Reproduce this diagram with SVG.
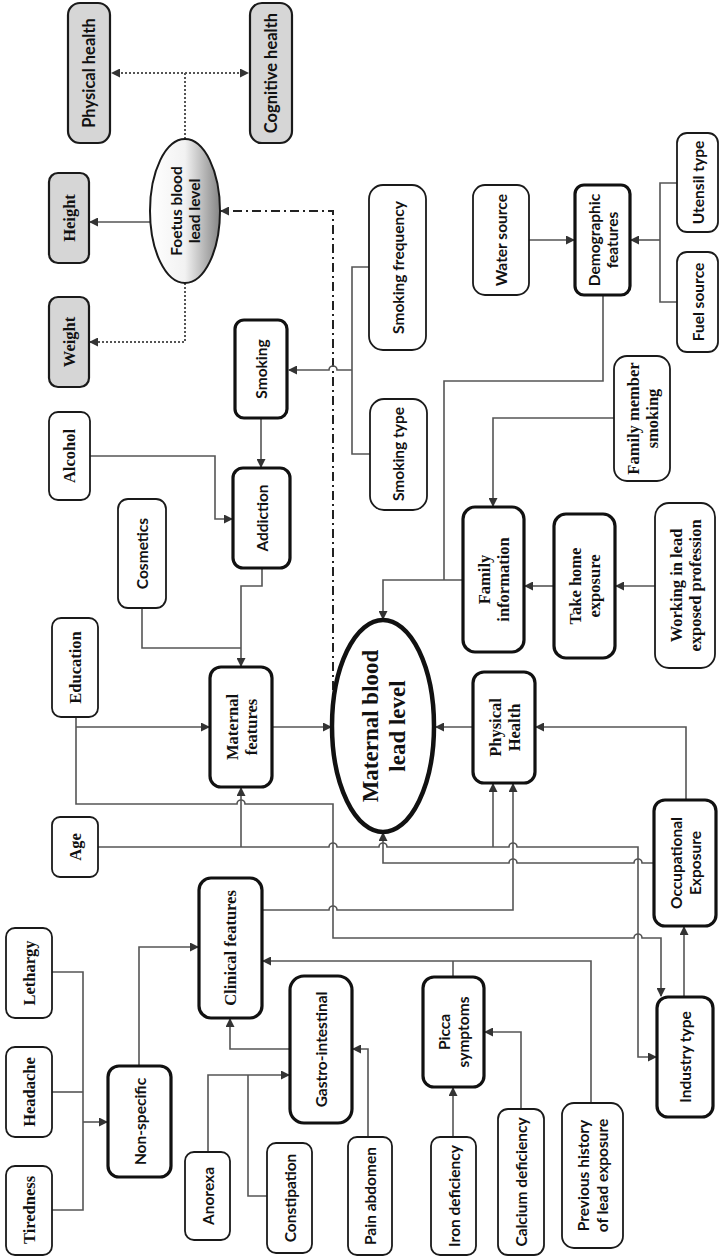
<svg xmlns="http://www.w3.org/2000/svg" width="722" height="1259" viewBox="0 0 722 1259">
<style>
.b{fill:#fff;stroke:#1a1a1a;stroke-width:1.8}
.t{fill:#fff;stroke:#111;stroke-width:3.2}
.g{fill:#d6d6d6;stroke:#1a1a1a;stroke-width:2.2}
.c{fill:none;stroke:#555;stroke-width:1.6}
.d{fill:none;stroke:#555;stroke-width:2;stroke-dasharray:2 2}
.dd{fill:none;stroke:#222;stroke-width:2;stroke-dasharray:9 4 2 4}
text{fill:#111;font-weight:bold;text-anchor:middle;dominant-baseline:central}
.s{font-family:Lato,"Liberation Sans",sans-serif;font-size:15.5px}
.r{font-family:"Liberation Serif",serif;font-size:16.5px}
.big{font-family:"Liberation Serif",serif;font-size:23px}
</style>
<defs>
<marker id="a" markerWidth="9" markerHeight="9" refX="8" refY="4.5" orient="auto" markerUnits="userSpaceOnUse"><path d="M0,0 L9,4.5 L0,9 z" fill="#333"/></marker>
<linearGradient id="fg" x1="0" y1="0" x2="1" y2="0"><stop offset="0" stop-color="#fff"/><stop offset="0.5" stop-color="#f2f2f2"/><stop offset="1" stop-color="#858585"/></linearGradient>
</defs>
<rect width="722" height="1259" fill="#fff"/>
<g id="connectors">
<path class="d" d="M185,139 V73 H112" marker-end="url(#a)"/>
<path class="d" d="M185,73 H248" marker-end="url(#a)"/>
<path class="c" d="M150,222 H90" marker-end="url(#a)"/>
<path class="d" d="M185,283 V342 H90" marker-end="url(#a)"/>
<path class="dd" d="M333,690 V211 H221" marker-end="url(#a)"/>
<path class="c" d="M369,267 H352 V454 H370"/>
<path class="c" d="M352,370 H337 a4,4 0 0 0 -8,0 H289" marker-end="url(#a)"/>
<path class="c" d="M261,418 V467" marker-end="url(#a)"/>
<path class="c" d="M90,456 H215 V519 H232" marker-end="url(#a)"/>
<path class="c" d="M262,568 V586 H241 V666" marker-end="url(#a)"/>
<path class="c" d="M142,608 V648 H241"/>
<path class="c" d="M76,717 V804 H237 a4,4 0 0 1 8,0 H333 V938 H634 a4,4 0 0 1 8,0 H661 V996" marker-end="url(#a)"/>
<path class="c" d="M76,727 H209" marker-end="url(#a)"/>
<path class="c" d="M272,727 H331" marker-end="url(#a)"/>
<path class="c" d="M98,847 H329 a4,4 0 0 1 8,0 H379 a4,4 0 0 1 8,0 H509 a4,4 0 0 1 8,0 H638 V1057 H656" marker-end="url(#a)"/>
<path class="c" d="M241,847 V788" marker-end="url(#a)"/>
<path class="c" d="M493,847 V784" marker-end="url(#a)"/>
<path class="c" d="M262,910 H329 a4,4 0 0 1 8,0 H513 V784" marker-end="url(#a)"/>
<path class="c" d="M654,863 H642 a4,4 0 0 0 -8,0 H517 a4,4 0 0 0 -8,0 H383 V833" marker-end="url(#a)"/>
<path class="c" d="M686,800 V727 H536" marker-end="url(#a)"/>
<path class="c" d="M684,997 V927" marker-end="url(#a)"/>
<path class="c" d="M473,727 H436" marker-end="url(#a)"/>
<path class="c" d="M463,580 H383 V619" marker-end="url(#a)"/>
<path class="c" d="M603,295 V381 H444 V580"/>
<path class="c" d="M614,418 H493 V506" marker-end="url(#a)"/>
<path class="c" d="M554,586 H525" marker-end="url(#a)"/>
<path class="c" d="M655,586 H616" marker-end="url(#a)"/>
<path class="c" d="M529,240 H574" marker-end="url(#a)"/>
<path class="c" d="M677,183 H660 V302 H677"/>
<path class="c" d="M660,240 H631" marker-end="url(#a)"/>
<path class="c" d="M591,1103 V961 H263" marker-end="url(#a)"/>
<path class="c" d="M453,977 V961"/>
<path class="c" d="M521,1109 V1032 H485" marker-end="url(#a)"/>
<path class="c" d="M453,1137 V1088" marker-end="url(#a)"/>
<path class="c" d="M290,1049 H230 V1019" marker-end="url(#a)"/>
<path class="c" d="M368,1137 V1049 H353" marker-end="url(#a)"/>
<path class="c" d="M208,1152 V1075 H289" marker-end="url(#a)"/>
<path class="c" d="M267,1196 H248 V1075"/>
<path class="c" d="M139,1066 V947 H198" marker-end="url(#a)"/>
<path class="c" d="M52,972 H83 V1210 H52"/>
<path class="c" d="M52,1092 H83"/>
<path class="c" d="M83,1122 H107" marker-end="url(#a)"/>
</g>
<g id="physical_health"><rect class="g" x="68" y="3" width="42" height="140" rx="12"/><text class="s" style="font-size:16.5px" transform="translate(89,73) rotate(-90)">Physical health</text></g>
<g id="cognitive_health"><rect class="g" x="250" y="3" width="42" height="140" rx="12"/><text class="s" style="font-size:16.5px" transform="translate(271,73) rotate(-90)">Cognitive health</text></g>
<g id="height"><rect class="g" x="49" y="173" width="40" height="90" rx="9"/><text class="r" transform="translate(69,218) rotate(-90)">Height</text></g>
<g id="weight"><rect class="g" x="49" y="297" width="40" height="90" rx="9"/><text class="r" transform="translate(69,342) rotate(-90)">Weight</text></g>
<g id="foetus"><ellipse cx="185" cy="211" rx="35" ry="72" fill="url(#fg)" stroke="#1a1a1a" stroke-width="2"/><text class="s" transform="translate(185,211) rotate(-90)"><tspan x="0" y="-9">Foetus blood</tspan><tspan x="0" y="9">lead level</tspan></text></g>
<g id="smoking"><rect class="t" x="235" y="320" width="52" height="98" rx="9"/><text class="s" transform="translate(261,369) rotate(-90)">Smoking</text></g>
<g id="smoking_frequency"><rect class="b" x="369" y="185" width="57" height="165" rx="14"/><text class="s" transform="translate(397.5,267.5) rotate(-90)">Smoking frequency</text></g>
<g id="smoking_type"><rect class="b" x="370" y="399" width="57" height="111" rx="14"/><text class="s" transform="translate(398,454) rotate(-90)">Smoking type</text></g>
<g id="water_source"><rect class="b" x="473" y="185" width="56" height="110" rx="12"/><text class="s" transform="translate(501,240) rotate(-90)">Water source</text></g>
<g id="demographic"><rect class="t" x="575" y="185" width="55" height="110" rx="9"/><text class="s" transform="translate(602.5,240) rotate(-90)"><tspan x="0" y="-9">Demographic</tspan><tspan x="0" y="9">features</tspan></text></g>
<g id="utensil"><rect class="b" x="677" y="133" width="41" height="99" rx="10"/><text class="s" transform="translate(697.5,182.5) rotate(-90)">Utensil type</text></g>
<g id="fuel"><rect class="b" x="677" y="252" width="41" height="100" rx="10"/><text class="s" transform="translate(697.5,302) rotate(-90)">Fuel source</text></g>
<g id="alcohol"><rect class="b" x="49" y="412" width="41" height="88" rx="9"/><text class="r" transform="translate(69.5,456) rotate(-90)">Alcohol</text></g>
<g id="addiction"><rect class="t" x="233" y="468" width="57" height="100" rx="10"/><text class="s" transform="translate(261.5,518) rotate(-90)">Addiction</text></g>
<g id="cosmetics"><rect class="b" x="118" y="499" width="48" height="109" rx="10"/><text class="s" transform="translate(142,553.5) rotate(-90)">Cosmetics</text></g>
<g id="education"><rect class="b" x="52" y="618" width="46" height="99" rx="9"/><text class="r" transform="translate(75,667.5) rotate(-90)">Education</text></g>
<g id="maternal_features"><rect class="t" x="210" y="667" width="62" height="120" rx="11"/><text class="r" transform="translate(241,727) rotate(-90)"><tspan x="0" y="-9.5">Maternal</tspan><tspan x="0" y="9.5">features</tspan></text></g>
<g id="maternal_blood"><ellipse cx="383" cy="726" rx="51" ry="106" fill="#fff" stroke="#111" stroke-width="4.5"/><text class="big" transform="translate(383,726) rotate(-90)"><tspan x="0" y="-13.5">Maternal blood</tspan><tspan x="0" y="13.5">lead level</tspan></text></g>
<g id="family_member_smoking"><rect class="b" x="614" y="356" width="56" height="125" rx="13"/><text class="r" transform="translate(642,418.5) rotate(-90)"><tspan x="0" y="-9.5">Family member</tspan><tspan x="0" y="9.5">smoking</tspan></text></g>
<g id="family_information"><rect class="t" x="463" y="507" width="61" height="145" rx="12"/><text class="r" transform="translate(493.5,579.5) rotate(-90)"><tspan x="0" y="-9.5">Family</tspan><tspan x="0" y="9.5">information</tspan></text></g>
<g id="take_home"><rect class="t" x="554" y="514" width="61" height="144" rx="12"/><text class="r" transform="translate(584.5,586) rotate(-90)"><tspan x="0" y="-9.5">Take home</tspan><tspan x="0" y="9.5">exposure</tspan></text></g>
<g id="working"><rect class="b" x="655" y="503" width="60" height="165" rx="14"/><text class="r" transform="translate(685,585.5) rotate(-90)"><tspan x="0" y="-9.5">Working in lead</tspan><tspan x="0" y="9.5">exposed profession</tspan></text></g>
<g id="physical_Health"><rect class="t" x="473" y="672" width="62" height="111" rx="11"/><text class="r" transform="translate(504,727.5) rotate(-90)"><tspan x="0" y="-9.5">Physical</tspan><tspan x="0" y="9.5">Health</tspan></text></g>
<g id="occupational"><rect class="t" x="654" y="800" width="62" height="126" rx="11"/><text class="s" transform="translate(685,863) rotate(-90)"><tspan x="0" y="-9.5">Occupational</tspan><tspan x="0" y="9.5">Exposure</tspan></text></g>
<g id="age"><rect class="b" x="52" y="817" width="46" height="60" rx="8"/><text class="r" transform="translate(75,847) rotate(-90)">Age</text></g>
<g id="industry"><rect class="t" x="657" y="997" width="56" height="120" rx="11"/><text class="s" transform="translate(685,1057) rotate(-90)">Industry type</text></g>
<g id="clinical"><rect class="t" x="199" y="878" width="63" height="140" rx="12"/><text class="r" transform="translate(230.5,948) rotate(-90)">Clinical features</text></g>
<g id="lethargy"><rect class="b" x="6" y="928" width="46" height="90" rx="9"/><text class="r" transform="translate(29,973) rotate(-90)">Lethargy</text></g>
<g id="headache"><rect class="b" x="6" y="1047" width="46" height="90" rx="9"/><text class="r" transform="translate(29,1092) rotate(-90)">Headache</text></g>
<g id="tiredness"><rect class="b" x="6" y="1166" width="46" height="89" rx="9"/><text class="r" transform="translate(29,1210) rotate(-90)">Tiredness</text></g>
<g id="non_specific"><rect class="t" x="108" y="1066" width="63" height="111" rx="11"/><text class="s" transform="translate(139.5,1121.5) rotate(-90)">Non-specific</text></g>
<g id="gastro"><rect class="t" x="290" y="976" width="62" height="147" rx="14"/><text class="s" transform="translate(321,1049.5) rotate(-90)">Gastro-intestinal</text></g>
<g id="anorexa"><rect class="b" x="185" y="1152" width="45" height="88" rx="9"/><text class="s" transform="translate(207.5,1196) rotate(-90)">Anorexa</text></g>
<g id="constipation"><rect class="b" x="267" y="1143" width="45" height="110" rx="9"/><text class="s" transform="translate(289.5,1198) rotate(-90)">Constipation</text></g>
<g id="pain_abdomen"><rect class="b" x="348" y="1137" width="44" height="118" rx="9"/><text class="s" transform="translate(370,1196) rotate(-90)">Pain abdomen</text></g>
<g id="picca"><rect class="t" x="423" y="977" width="61" height="110" rx="11"/><text class="s" transform="translate(453.5,1032) rotate(-90)"><tspan x="0" y="-9.5">Picca</tspan><tspan x="0" y="9.5">symptoms</tspan></text></g>
<g id="iron"><rect class="b" x="431" y="1137" width="45" height="118" rx="9"/><text class="s" transform="translate(453.5,1196) rotate(-90)">Iron deficiency</text></g>
<g id="calcium"><rect class="b" x="498" y="1109" width="46" height="146" rx="10"/><text class="s" transform="translate(521,1182) rotate(-90)">Calcium deficiency</text></g>
<g id="previous"><rect class="b" x="562" y="1103" width="61" height="145" rx="12"/><text class="s" transform="translate(592.5,1175.5) rotate(-90)"><tspan x="0" y="-9.5">Previous history</tspan><tspan x="0" y="9.5">of lead exposure</tspan></text></g>
</svg>
